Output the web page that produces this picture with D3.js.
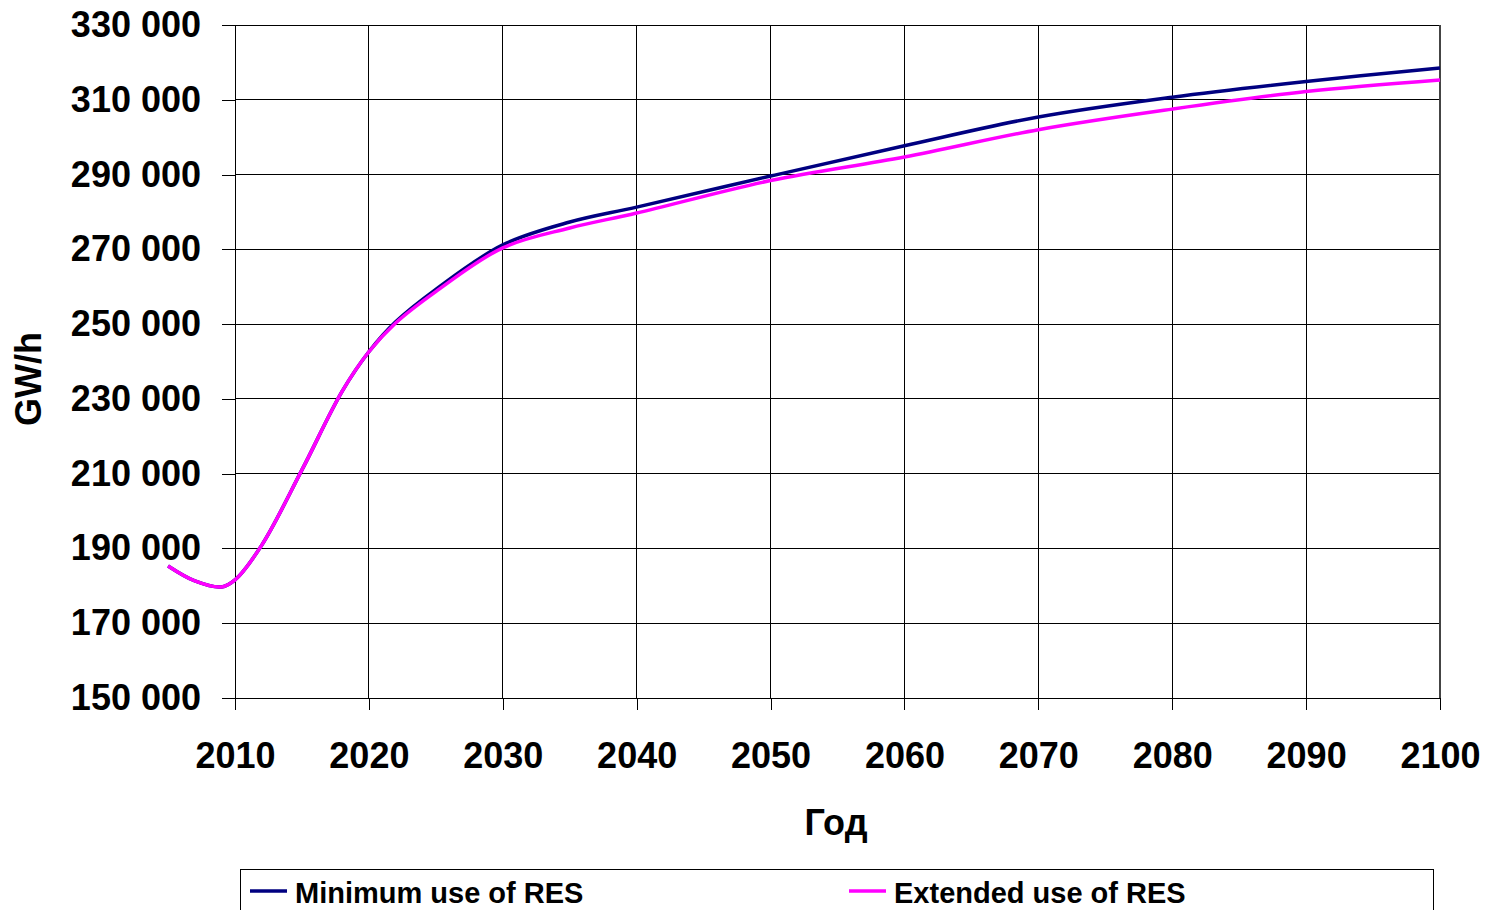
<!DOCTYPE html>
<html>
<head>
<meta charset="utf-8">
<script src="https://cdn.jsdelivr.net/npm/d3@7"></script>
<style>
  body { margin: 0; background: #fff; }
  svg { display: block; font-family: "Liberation Sans", Arial, sans-serif; font-weight: bold; }
</style>
</head>
<body>
<svg id="chart"></svg>
<script>
let w = 1485;
let h = 910;

// data
let years = [2005, 2007, 2009, 2010, 2012, 2015, 2018, 2020, 2022, 2025, 2030, 2035, 2040, 2050, 2060, 2070, 2080, 2090, 2100];
let minRES = [185300, 181300, 179700, 181600, 190900, 211000, 232000, 242600, 250600, 259300, 271200, 277300, 281300, 289600, 297700, 305400, 310700, 314900, 318500];
let extRES = [185300, 181300, 179700, 181600, 190900, 211000, 232000, 242600, 250300, 258700, 270400, 275700, 279700, 288400, 294700, 302000, 307500, 312200, 315300];
let yTicks = [150000, 170000, 190000, 210000, 230000, 250000, 270000, 290000, 310000, 330000];
let xTicks = [2010, 2020, 2030, 2040, 2050, 2060, 2070, 2080, 2090, 2100];
let seriesNames = ["Minimum use of RES", "Extended use of RES"];
let seriesColors = ["#000080", "#ff00ff"];

let chart = d3.select("#chart").attr("width", w).attr("height", h);

let xScale = d3.scaleLinear().domain([2010, 2100]).range([235, 1440]);
let yScale = d3.scaleLinear().domain([150000, 330000]).range([698, 25]);

let fmt = d => d3.format(",")(d).replace(/,/g, " ");

// grid
chart.append("g").selectAll("line").data(yTicks).join("line")
  .attr("x1", 235).attr("x2", 1440)
  .attr("y1", d => yScale(d)).attr("y2", d => yScale(d))
  .attr("stroke", "#000").attr("stroke-width", 1).attr("shape-rendering", "crispEdges");
chart.append("g").selectAll("line").data(xTicks.slice(1)).join("line")
  .attr("x1", d => xScale(d)).attr("x2", d => xScale(d))
  .attr("y1", 25).attr("y2", 698)
  .attr("stroke", d => d == 2100 ? "#444" : "#000").attr("stroke-width", d => d == 2100 ? 2 : 1)
  .attr("shape-rendering", "crispEdges");

// axes
let yAxis = d3.axisLeft(yScale).tickValues(yTicks).tickFormat(fmt).tickSize(13).tickPadding(21);
let xAxis = d3.axisBottom(xScale).tickValues(xTicks).tickFormat(d3.format("d")).tickSize(12).tickPadding(32);

let yAxisGroup = chart.append("g").attr("transform", "translate(235,0)").call(yAxis);
let xAxisGroup = chart.append("g").attr("transform", "translate(0,698)").call(xAxis);
[yAxisGroup, xAxisGroup].forEach(g => {
  g.select(".domain").attr("stroke", "#000").attr("shape-rendering", "crispEdges");
  g.selectAll(".tick line").attr("stroke", "#000").attr("shape-rendering", "crispEdges");
  g.selectAll("text").attr("font-size", 36).attr("font-family", "'Liberation Sans', Arial, sans-serif")
    .attr("font-weight", "bold").attr("fill", "#000");
});

// lines
let line = d3.line().x((d, i) => xScale(years[i])).y(d => yScale(d)).curve(d3.curveCatmullRom.alpha(0.5));
[minRES, extRES].forEach((s, k) => {
  chart.append("path").datum(s).attr("d", line)
    .attr("fill", "none").attr("stroke", seriesColors[k]).attr("stroke-width", 3.5);
});

// axis titles
chart.append("text").attr("x", 836).attr("y", 835).attr("text-anchor", "middle")
  .attr("font-size", 36).text("Год");
chart.append("text").attr("transform", "translate(41,379) rotate(-90)").attr("text-anchor", "middle")
  .attr("font-size", 36).text("GW/h");

// legend
chart.append("rect").attr("x", 240.5).attr("y", 869.5).attr("width", 1193).attr("height", 60)
  .attr("fill", "#fff").attr("stroke", "#000").attr("stroke-width", 1);
let legendX = [250, 849];
let legend = chart.append("g").selectAll("g").data(seriesNames).join("g")
  .attr("transform", (d, i) => `translate(${legendX[i]},891)`);
legend.append("line").attr("x1", 0).attr("x2", 37).attr("y1", 0).attr("y2", 0)
  .attr("stroke", (d, i) => seriesColors[i]).attr("stroke-width", 3.5);
legend.append("text").attr("x", 45).attr("y", 12).attr("font-size", 29).text(d => d);
</script>
</body>
</html>
